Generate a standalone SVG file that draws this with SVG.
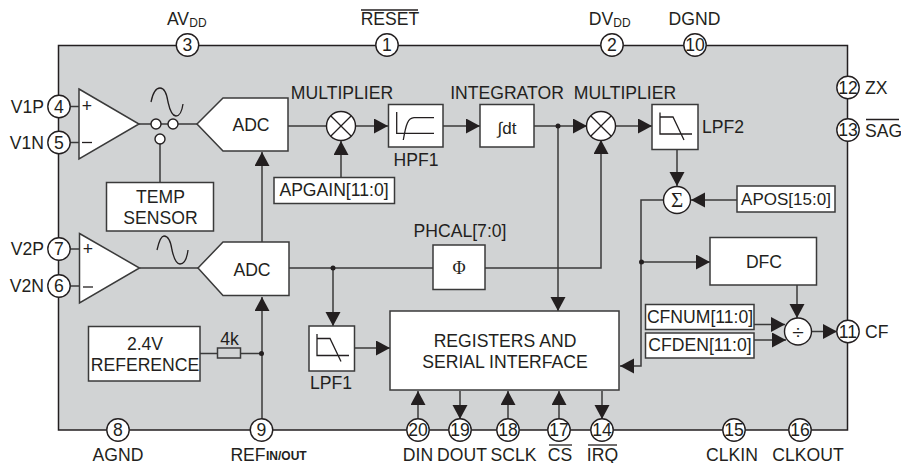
<svg xmlns="http://www.w3.org/2000/svg" width="901" height="463" viewBox="0 0 901 463">
<style>
text{font-family:"Liberation Sans",Arial,sans-serif;font-size:17.600px;fill:#231f20;text-anchor:middle}
.l{text-anchor:start}
.e{text-anchor:end}
.s{font-size:12px}
.b{fill:#fff;stroke:#3a3a3a;stroke-width:1.5}
.c{fill:none;stroke:#3a3a3a;stroke-width:1.5}
.t{fill:none;stroke:#231f20;stroke-width:1.3}
.p{fill:#fff;stroke:#231f20;stroke-width:1.4}
.d{fill:#231f20}
</style>
<defs>
<marker id="a" markerUnits="userSpaceOnUse" markerWidth="15" markerHeight="16" refX="14" refY="7.500" orient="auto"><path d="M0 0L14 7.500L0 15Z" fill="#231f20" stroke="none"/></marker>
<g id="lpf"><path class="t" d="M-15 -13.500V8H17M-15 -9H-2L9 14"/></g>
</defs>
<rect id="chip" x="58.500" y="45.500" width="789" height="384.500" fill="#d1d3d4" stroke="#231f20" stroke-width="1.500"/>
<g id="connectors" class="c">
<path d="M70 106.500H79M70 142.500H79M70 249H79M70 286H79"/>
<path d="M139 124H197M160 139V182.500M139.500 268H198"/>
<path class="t" d="M151 102C153 92 156 88 160 88C165 88 167 95 168 102C170 111 172 116 176 116C180 116 182 111 183 104"/>
<path class="t" d="M157 250C159 241 161 236 164 236C169 236 171 243 172 250C174 259 176 264 180 264C185 264 187 258 188 250"/>
<path d="M288 126H326.500"/>
<path d="M262 242V152" marker-end="url(#a)"/>
<path d="M355.500 126H388" marker-end="url(#a)"/>
<path d="M341 177.500V141" marker-end="url(#a)"/>
<path d="M443 126H480" marker-end="url(#a)"/>
<path d="M534 126H587" marker-end="url(#a)"/>
<path d="M615.500 126H652" marker-end="url(#a)"/>
<path d="M677 149.500V186" marker-end="url(#a)"/>
<path d="M737 200H691" marker-end="url(#a)"/>
<path d="M289 268H433M485 268H601V140" marker-end="url(#a)"/>
<path d="M558 126V311" marker-end="url(#a)"/>
<path d="M333 268V326" marker-end="url(#a)"/>
<path d="M354.500 348H390" marker-end="url(#a)"/>
<path d="M200 353.500H217.500M240.500 353.500H261"/>
<path d="M262 419V297" marker-end="url(#a)"/>
<path d="M664 200H641V366H620" marker-end="url(#a)"/>
<path d="M641 262H710" marker-end="url(#a)"/>
<path d="M797 285V318" marker-end="url(#a)"/>
<path d="M754 324.500H785" marker-end="url(#a)"/>
<path d="M754 340H786" marker-end="url(#a)"/>
<path d="M811.500 331.500H837" marker-end="url(#a)"/>
<path d="M418 419V391" marker-end="url(#a)"/>
<path d="M460 391V419" marker-end="url(#a)"/>
<path d="M508 419V391" marker-end="url(#a)"/>
<path d="M559 419V391" marker-end="url(#a)"/>
<path d="M602 391V419" marker-end="url(#a)"/>
</g>
<g id="junctions" class="d">
<circle cx="558" cy="126" r="2.500"/><circle cx="333" cy="268" r="2.500"/><circle cx="261.500" cy="353.500" r="2.500"/><circle cx="641.500" cy="262" r="2.500"/>
</g>
<g id="amp1"><path class="b" d="M79 89L139 124L79 159Z"/><text x="87" y="112">+</text><path class="t" d="M82 142.500H92"/></g>
<g id="amp2"><path class="b" d="M79.500 233.500L139.500 268L79.500 303Z"/><text x="88" y="255">+</text><path class="t" d="M83 287H93"/></g>
<g id="switch" class="p"><circle cx="156" cy="124" r="5"/><circle cx="173" cy="124" r="5"/><circle cx="160" cy="139" r="5"/></g>
<g id="temp"><rect class="b" x="106.500" y="182.500" width="107" height="48.500"/><text x="160.500" y="203">TEMP</text><text x="160.500" y="224">SENSOR</text></g>
<g id="adc1"><path class="b" d="M197 124L223 98H288V151H223Z"/><text x="251" y="131">ADC</text></g>
<g id="adc2"><path class="b" d="M198 268L223 242H289V295.500H223Z"/><text x="252" y="276">ADC</text></g>
<g id="mult1"><circle class="p" cx="341" cy="126" r="14.500"/><path class="t" d="M330.700 115.700L351.300 136.300M351.300 115.700L330.700 136.300"/></g>
<g id="mult2"><circle class="p" cx="601" cy="126" r="14.500"/><path class="t" d="M590.700 115.700L611.300 136.300M611.300 115.700L590.700 136.300"/></g>
<g id="hpf1"><rect class="b" x="388.500" y="104.500" width="54.500" height="42.500"/><path class="t" d="M396.700 112V133.300H434M403.300 140C406 124 408 118 414 117.700H434"/><text x="416" y="166">HPF1</text></g>
<g id="integrator"><rect class="b" x="480" y="104.500" width="54" height="42.500"/><text x="507" y="133.500" style="font-size:17px">∫dt</text></g>
<g id="lpf2"><rect class="b" x="652" y="104.500" width="46" height="45"/><use href="#lpf" x="675" y="126"/><text x="702" y="133" class="l">LPF2</text></g>
<g id="sigma"><circle class="p" cx="677" cy="200" r="13.500"/><text x="677" y="207" style="font-family:'Liberation Serif',serif;font-size:21px">Σ</text></g>
<g id="apos"><rect class="b" x="737" y="186" width="98" height="26"/><text x="786" y="204.500" style="font-size:17px">APOS[15:0]</text></g>
<g id="apgain"><rect class="b" x="274" y="177.500" width="120.500" height="26"/><text x="334" y="196">APGAIN[11:0]</text></g>
<g id="phi"><rect class="b" x="433" y="245" width="52" height="44.500"/><text x="459" y="273.500" style="font-family:'Liberation Serif',serif;font-size:18px">Φ</text></g>
<g id="dfc"><rect class="b" x="710" y="237.500" width="106.500" height="47.500"/><text x="764" y="268">DFC</text></g>
<g id="cfnum"><rect class="b" x="645.500" y="304.500" width="108.500" height="25"/><text x="700" y="322.500">CFNUM[11:0]</text></g>
<g id="cfden"><rect class="b" x="645.500" y="333" width="108.500" height="25"/><text x="700" y="350.500">CFDEN[11:0]</text></g>
<g id="div"><circle class="p" cx="798" cy="331.500" r="13.500"/><text x="798" y="338.500" style="font-size:21px">÷</text></g>
<g id="registers"><rect class="b" x="390" y="311" width="229" height="79"/><text x="505" y="347">REGISTERS AND</text><text x="505" y="367.500">SERIAL INTERFACE</text></g>
<g id="lpf1"><rect class="b" x="309" y="326" width="45.500" height="45"/><use href="#lpf" x="332" y="347.500"/><text x="331" y="389">LPF1</text></g>
<g id="reference"><rect class="b" x="88.500" y="326.500" width="111.500" height="54.500"/><text x="145" y="350">2.4V</text><text x="145" y="371">REFERENCE</text></g>
<g id="resistor"><rect class="c" x="217.500" y="348" width="23" height="10"/><text x="229.500" y="345">4k</text></g>
<g id="pin3"><circle class="p" cx="187.500" cy="45" r="11.200"/><text x="187.500" y="51">3</text><text x="178" y="25">AV</text><text x="198" y="27" class="s">DD</text></g>
<g id="pin1"><circle class="p" cx="387" cy="45" r="11.200"/><text x="387" y="51">1</text><text x="390" y="25">RESET</text><path class="t" d="M361 10H418"/></g>
<g id="pin2"><circle class="p" cx="612" cy="45" r="11.200"/><text x="612" y="51">2</text><text x="601" y="25">DV</text><text x="622" y="27" class="s">DD</text></g>
<g id="pin10"><circle class="p" cx="695" cy="45" r="11.200"/><text x="695" y="51">10</text><text x="694.500" y="25">DGND</text></g>
<g id="pin12"><circle class="p" cx="848" cy="87.500" r="11.200"/><text x="848" y="93.500">12</text><text x="865" y="93.500" class="l">ZX</text></g>
<g id="pin13"><circle class="p" cx="848" cy="130" r="11.200"/><text x="848" y="136">13</text><text x="865" y="137" class="l">SAG</text><path class="t" d="M866 119.500H899"/></g>
<g id="pin4"><circle class="p" cx="59" cy="106.500" r="11.200"/><text x="59" y="112.500">4</text><text x="44" y="112.500" class="e">V1P</text></g>
<g id="pin5"><circle class="p" cx="59" cy="142.500" r="11.200"/><text x="59" y="148.500">5</text><text x="44" y="148.500" class="e">V1N</text></g>
<g id="pin7"><circle class="p" cx="59" cy="249" r="11.200"/><text x="59" y="255">7</text><text x="44" y="255" class="e">V2P</text></g>
<g id="pin6"><circle class="p" cx="59" cy="286" r="11.200"/><text x="59" y="292">6</text><text x="44" y="292" class="e">V2N</text></g>
<g id="pin8"><circle class="p" cx="118" cy="430" r="11.200"/><text x="118" y="436">8</text><text x="118" y="460.500">AGND</text></g>
<g id="pin9"><circle class="p" cx="261.500" cy="430" r="11.200"/><text x="261.500" y="436">9</text><text x="248" y="460.500">REF</text><text x="266" y="460" class="s l" style="font-weight:bold">IN/OUT</text></g>
<g id="pin20"><circle class="p" cx="418" cy="430" r="11.200"/><text x="418" y="436">20</text><text x="418" y="460.500">DIN</text></g>
<g id="pin19"><circle class="p" cx="460" cy="430" r="11.200"/><text x="460" y="436">19</text><text x="462" y="460.500">DOUT</text></g>
<g id="pin18"><circle class="p" cx="508" cy="430" r="11.200"/><text x="508" y="436">18</text><text x="513.500" y="460.500">SCLK</text></g>
<g id="pin17"><circle class="p" cx="559" cy="430" r="11.200"/><text x="559" y="436">17</text><text x="560" y="460.500">CS</text><path class="t" d="M549 445H572"/></g>
<g id="pin14"><circle class="p" cx="602" cy="430" r="11.200"/><text x="602" y="436">14</text><text x="602.500" y="460.500">IRQ</text><path class="t" d="M588 445H617"/></g>
<g id="pin15"><circle class="p" cx="734" cy="430" r="11.200"/><text x="734" y="436">15</text><text x="732" y="460.500">CLKIN</text></g>
<g id="pin16"><circle class="p" cx="800" cy="430" r="11.200"/><text x="800" y="436">16</text><text x="808" y="460.500">CLKOUT</text></g>
<g id="pin11"><circle class="p" cx="848" cy="331.500" r="11.200"/><text x="848" y="337.500">11</text><text x="865" y="337.500" class="l">CF</text></g>
<g id="labels">
<text x="342" y="99.300">MULTIPLIER</text>
<text x="507" y="99.300">INTEGRATOR</text>
<text x="625" y="99.300">MULTIPLIER</text>
<text x="460" y="236.700">PHCAL[7:0]</text>
</g>
</svg>
